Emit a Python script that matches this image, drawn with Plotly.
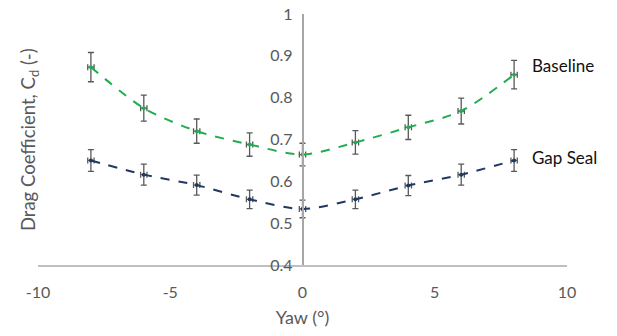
import plotly.graph_objects as go

yaw = [-8, -6, -4, -2, 0, 2, 4, 6, 8]
baseline = [0.873, 0.775, 0.720, 0.688, 0.664, 0.693, 0.729, 0.768, 0.855]
baseline_err = [0.035, 0.031, 0.029, 0.028, 0.027, 0.028, 0.029, 0.031, 0.034]
gapseal = [0.650, 0.616, 0.591, 0.557, 0.534, 0.557, 0.590, 0.616, 0.650]
gapseal_err = [0.026, 0.025, 0.024, 0.022, 0.021, 0.022, 0.024, 0.025, 0.026]
yaw_err = [0.12] * 9

x_ticks = [-10, -5, 0, 5, 10]
x_ticktext = ["-10", "-5", "0", "5", "10"]
y_ticks = [0.4, 0.5, 0.6, 0.7, 0.8, 0.9, 1.0]
y_ticktext = ["0.4", "0.5", "0.6", "0.7", "0.8", "0.9", "1"]
series_names = ["Baseline", "Gap Seal"]
label_pos = [0.795, 0.43]

FONT = "Lato, 'Open Sans', sans-serif"
ERRC = "#595959"

fig = go.Figure()
for name, vals, errs, col in [(series_names[0], baseline, baseline_err, "#1fae4f"),
                              (series_names[1], gapseal, gapseal_err, "#1f3864")]:
    fig.add_trace(go.Scatter(
        x=yaw, y=vals, mode="lines+markers", name=name,
        line=dict(color=col, width=2, dash="dash", shape="spline", smoothing=0.8),
        marker=dict(color=col, size=4),
        error_y=dict(type="data", array=errs, color=ERRC, thickness=1.3, width=3),
        error_x=dict(type="data", array=yaw_err, color=ERRC, thickness=1.3, width=3),
        showlegend=False,
    ))

fig.update_layout(
    width=617, height=336,
    margin=dict(l=38, r=50, t=14, b=71, autoexpand=False),
    paper_bgcolor="white", plot_bgcolor="white",
    font=dict(family=FONT, size=15, color="#595959"),
    xaxis=dict(range=[-10, 10], tickvals=x_ticks, ticktext=x_ticktext,
               showgrid=False, zeroline=False, automargin=False,
               showline=True, linecolor="#bfbfbf", linewidth=1.5,
               ticks="outside", ticklen=12, tickcolor="rgba(0,0,0,0)",
               tickfont=dict(size=16, color="#595959"),
               title=dict(text="Yaw (°)", font=dict(size=18, color="#595959"), standoff=11)),
    yaxis=dict(range=[0.4, 1.0], tickvals=y_ticks, ticktext=y_ticktext,
               anchor="free", position=0.5, showgrid=False, zeroline=False,
               automargin=False,
               showline=True, linecolor="#a6a6a6", linewidth=1.5,
               ticks="outside", ticklen=6, tickcolor="rgba(0,0,0,0)",
               tickfont=dict(size=16, color="#595959")),
)
fig.add_annotation(text="Drag Coefficient, C<sub>d</sub> (-)", x=-0.016, xref="paper",
                   xanchor="center", y=0.5, yref="paper", yanchor="middle",
                   textangle=-90, showarrow=False,
                   font=dict(family=FONT, size=18.5, color="#595959"))
for name, yp in zip(series_names, label_pos):
    fig.add_annotation(x=1.0, xref="paper", xanchor="left", xshift=-37,
                       y=yp, yref="paper", yanchor="middle", text=name, showarrow=False,
                       font=dict(family=FONT, size=17, color="#111111"))

fig.write_html("out.html", config={"displayModeBar": False},
               post_script="document.body.style.margin='0';")
